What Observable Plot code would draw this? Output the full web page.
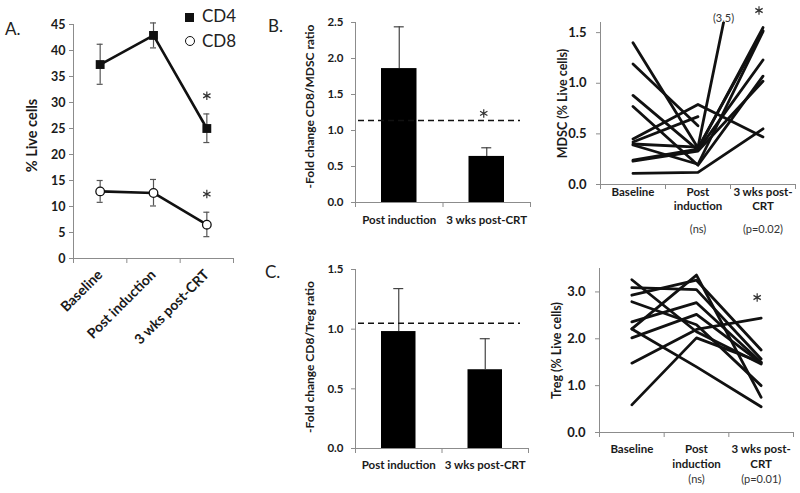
<!DOCTYPE html>
<html><head><meta charset="utf-8">
<script src="https://cdn.jsdelivr.net/npm/d3@7"></script>
<script src="https://cdn.jsdelivr.net/npm/@observablehq/plot@0.6"></script>
<style>
body{margin:0;background:#fff;}
#fig{position:relative;width:800px;height:493px;overflow:hidden;background:#fff;font-family:Lato,sans-serif;color:#222}
#fig div.p{position:absolute}
.letter{position:absolute;font-size:17px;line-height:17px;color:#222}
.leg{position:absolute;font-size:17px;line-height:17px;color:#222}
</style></head><body><div id="fig"></div>
<script>
// ---------- Panel A ----------
const timepoints = ["Baseline", "Post induction", "3 wks post-CRT"];
const cd4Mean = [37.3, 42.9, 25.0];
const cd4Low  = [33.5, 40.5, 22.3];
const cd4High = [41.2, 45.3, 27.8];
const cd8Mean = [12.9, 12.6, 6.5];
const cd8Low  = [10.8, 10.1, 4.2];
const cd8High = [15.0, 15.2, 8.9];
const panelASig = [false, false, true];
const panelATicks = [0, 5, 10, 15, 20, 25, 30, 35, 40, 45];

// ---------- Panels B / C ----------
const ratioGroups = ["Post induction", "3 wks post-CRT"];
const mdscRatio = [1.86, 0.64];
const mdscRatioErr = [2.44, 0.76];
const mdscRef = 1.14;
const mdscRatioSig = [false, true];
const mdscRatioTicks = [0, 0.5, 1.0, 1.5, 2.0, 2.5];
const tregRatio = [0.98, 0.66];
const tregRatioErr = [1.34, 0.92];
const tregRef = 1.05;
const tregRatioTicks = [0, 0.5, 1.0, 1.5];

// ---------- Paired patient panels ----------
const pairedLabels = ["Baseline", "Post\ninduction", "3 wks post-\nCRT"];
const mdscStats = ["", "(ns)", "(p=0.02)"];
const tregStats = ["", "(ns)", "(p=0.01)"];
const mdscBaseline = [1.40, 1.19, 0.88, 0.77, 0.45, 0.42, 0.40, 0.24, 0.23, 0.11, 0.39];
const mdscPost     = [0.36, 0.58, 0.34, 0.19, 0.79, 0.67, 0.37, 0.35, 0.33, 0.12, 0.20];
const mdscPostCRT  = [1.52, null, 1.23, 1.07, 0.47, null, 3.5, 1.55, 1.02, 0.55, 1.51];
const mdscTicks = [0, 0.5, 1.0, 1.5];
const tregBaseline = [3.26, 3.09, 2.93, 2.79, 2.36, 2.21, 2.02, 1.48, 0.59, 2.21];
const tregPost     = [2.15, 3.05, 3.25, 2.30, 2.77, 3.36, 2.52, 2.20, 2.02, 1.40];
const tregPostCRT  = [1.46, 1.57, 1.76, 1.00, 1.50, 0.75, 1.48, 2.44, 1.50, 0.55];
const tregTicks = [0, 1, 2, 3];

// ---------- helpers ----------
const fig = document.getElementById("fig");
const AX = "#8c8c8c";
const INK = "#111";
const TXT = "#1a1a1a";
const STAR = {symbol: "asterisk", r: 4, stroke: "#333", strokeWidth: 1.2};
const baseStyle = {background: "transparent", fontFamily: "Lato, sans-serif", fontSize: "12px", fontWeight: "bold", color: TXT, overflow: "visible"};
const xc = d => d.i + 0.5;
const f1 = d3.format(".1f");

function place(el, left, top) {
  const d = document.createElement("div");
  d.className = "p"; d.style.left = left + "px"; d.style.top = top + "px";
  d.appendChild(el); fig.appendChild(d);
}
function html(cls, text, left, top, extra) {
  const d = document.createElement("div");
  d.className = cls; d.textContent = text;
  d.style.left = left + "px"; d.style.top = top + "px";
  if (extra) Object.assign(d.style, extra);
  fig.appendChild(d);
}

// ---------- Panel A ----------
const rowsA = timepoints.flatMap((t, i) => [
  {i, series: "CD4", m: cd4Mean[i], lo: cd4Low[i], hi: cd4High[i]},
  {i, series: "CD8", m: cd8Mean[i], lo: cd8Low[i], hi: cd8High[i]}
]);
const plotA = Plot.plot({
  width: 250, height: 360, marginLeft: 73, marginRight: 17, marginTop: 24, marginBottom: 102,
  style: baseStyle,
  x: {domain: [0, timepoints.length]},
  y: {domain: [0, 45]},
  marks: [
    Plot.ruleX([0], {stroke: AX}),
    Plot.ruleY([0], {stroke: AX}),
    Plot.axisY({ticks: panelATicks, tickSize: 4, tickPadding: 4, stroke: AX, fill: TXT, fontSize: 12.5, label: null}),
    Plot.axisX({ticks: d3.range(0, timepoints.length + 1), tickSize: 5, stroke: AX, tickFormat: () => "", label: null}),
    Plot.axisX({ticks: timepoints.map((_, i) => i + 0.5), tickFormat: d => timepoints[Math.floor(d)], tickSize: 0, tickPadding: 14, tickRotate: -45, fill: TXT, fontSize: 14, label: null}),
    Plot.text(["% Live cells"], {frameAnchor: "left", textAnchor: "middle", rotate: -90, dx: -41, dy: -6, fontSize: 14.5, fill: TXT}),
    Plot.ruleX(rowsA, {x: xc, y1: "lo", y2: "hi", stroke: "#555", strokeWidth: 1.2}),
    Plot.ruleY(rowsA, {x1: xc, x2: xc, y: "lo", stroke: "#555", strokeWidth: 1.2, insetLeft: -3, insetRight: -3}),
    Plot.ruleY(rowsA, {x1: xc, x2: xc, y: "hi", stroke: "#555", strokeWidth: 1.2, insetLeft: -3, insetRight: -3}),
    Plot.line(rowsA, {x: xc, y: "m", z: "series", stroke: INK, strokeWidth: 2.6}),
    Plot.dot(rowsA.filter(d => d.series === "CD4"), {x: xc, y: "m", symbol: "square", r: 5, fill: INK}),
    Plot.dot(rowsA.filter(d => d.series === "CD8"), {x: xc, y: "m", r: 4.3, fill: "white", stroke: INK, strokeWidth: 1.3}),
    Plot.dot(rowsA.filter(d => panelASig[d.i]), {x: xc, y: d => d.hi + 3.5, ...STAR})
  ]
});
place(plotA, 0, 0);

// ---------- Panels B / C ----------
function ratioPanel({vals, errs, ref, ticks, title, sig, mt, mb, h, mr, refInset, labelPad, titleDy}) {
  const rows = ratioGroups.map((g, i) => ({i, g, v: vals[i], e: errs[i], s: sig ? sig[i] : false}));
  return Plot.plot({
    width: 300, height: h, marginLeft: 115, marginRight: mr, marginTop: mt, marginBottom: mb,
    style: baseStyle,
    x: {domain: [0, ratioGroups.length]},
    y: {domain: [0, d3.max(ticks)]},
    marks: [
      Plot.rect(rows, {x1: d => d.i, x2: d => d.i + 1, y1: 0, y2: "v", insetLeft: 26, insetRight: 26, fill: "#000"}),
      Plot.ruleX(rows, {x: xc, y1: "v", y2: "e", stroke: "#444", strokeWidth: 1.2}),
      Plot.ruleY(rows, {x1: xc, x2: xc, y: "e", stroke: "#444", strokeWidth: 1.2, insetLeft: -5, insetRight: -5}),
      Plot.ruleX([0], {stroke: AX}),
      Plot.ruleY([0], {stroke: AX}),
      Plot.ruleY([ref], {stroke: "#111", strokeWidth: 1.5, strokeDasharray: "6,4", insetLeft: 3, insetRight: refInset}),
      Plot.axisY({ticks, tickFormat: f1, tickSize: 4, tickPadding: 8, stroke: AX, fill: TXT, fontSize: 11.5, label: null}),
      Plot.axisX({ticks: d3.range(0, ratioGroups.length + 1), tickSize: 5, stroke: AX, tickFormat: () => "", label: null}),
      Plot.axisX({ticks: ratioGroups.map((_, i) => i + 0.5), tickFormat: d => ratioGroups[Math.floor(d)], tickSize: 0, tickPadding: labelPad, fill: TXT, fontSize: 11.5, label: null}),
      Plot.text([title], {frameAnchor: "left", textAnchor: "middle", rotate: -90, dx: -45, dy: titleDy, fontSize: 12, fill: TXT}),
      Plot.dot(rows.filter(d => d.s), {x: xc, y: () => ref, dx: -3, dy: -7, ...STAR})
    ]
  });
}
place(ratioPanel({vals: mdscRatio, errs: mdscRatioErr, ref: mdscRef, ticks: mdscRatioTicks,
  title: "-Fold change CD8/MDSC ratio", sig: mdscRatioSig, mt: 22, mb: 38, h: 240, mr: 10, refInset: 10, labelPad: 13, titleDy: -6}), 240, 0);
place(ratioPanel({vals: tregRatio, errs: tregRatioErr, ref: tregRef, ticks: tregRatioTicks,
  title: "-Fold change CD8/Treg ratio", sig: null, mt: 19, mb: 45, h: 243, mr: 12, refInset: 8, labelPad: 12, titleDy: -2}), 240, 250);

// ---------- Paired panels ----------
function pairedPanel({base, post, crt, ymax, ticks, title, stats, mt, mb, h, ml, mr, labelPad, lineH, statsDy, titleDx, sigDy}) {
  const rows = base.flatMap((b, p) => [b, post[p], crt[p]].map((v, i) => ({p, i, v})));
  const over = base.map((b, p) => ({p, a: post[p], c: crt[p]})).filter(d => d.c != null && d.c > ymax)
    .map(d => ({x: 1.5 + (ymax - d.a) / (d.c - d.a), y: ymax, t: `(${d.c})`}));
  const statRows = stats.map((s, i) => ({i, s}));
  return Plot.plot({
    width: 260, height: h, marginLeft: ml, marginRight: mr, marginTop: mt, marginBottom: mb,
    style: baseStyle,
    x: {domain: [0, pairedLabels.length]},
    y: {domain: [0, ymax]},
    marks: [
      Plot.ruleX([0], {stroke: AX}),
      Plot.ruleY([0], {stroke: AX}),
      Plot.axisY({ticks, tickFormat: f1, tickSize: 4, tickPadding: 10, stroke: AX, fill: TXT, fontSize: 13, label: null}),
      Plot.axisX({ticks: d3.range(0, pairedLabels.length + 1), tickSize: 5, stroke: AX, tickFormat: () => "", label: null}),
      Plot.axisX({ticks: pairedLabels.map((_, i) => i + 0.5), tickFormat: d => pairedLabels[Math.floor(d)], tickSize: 0, tickPadding: labelPad, lineHeight: lineH, fill: TXT, fontSize: 11.5, label: null}),
      Plot.text(statRows, {x: xc, frameAnchor: "bottom", dy: statsDy, text: "s", fontSize: 11, fontWeight: "normal", fill: "#333"}),
      Plot.text([title], {frameAnchor: "left", textAnchor: "middle", rotate: -90, dx: titleDx, fontSize: 12.5, fill: TXT}),
      Plot.line(rows, {x: xc, y: "v", z: "p", stroke: INK, strokeWidth: 2.8, clip: true}),
      Plot.text(over, {x: "x", y: "y", text: "t", lineAnchor: "bottom", dy: -1, fontSize: 11, fontWeight: "normal", fill: "#333"}),
      Plot.dot([pairedLabels.length - 0.5], {x: d => d, frameAnchor: "top", dx: -4, dy: sigDy, ...STAR})
    ]
  });
}
place(pairedPanel({base: mdscBaseline, post: mdscPost, crt: mdscPostCRT, ymax: 1.6, ticks: mdscTicks,
  title: "MDSC (% Live cells)", stats: mdscStats, mt: 22, mb: 56, h: 240, ml: 60, mr: 5,
  labelPad: 1, lineH: 1.25, statsDy: 48, titleDx: -38, sigDy: -12}), 540, 0);
place(pairedPanel({base: tregBaseline, post: tregPost, crt: tregPostCRT, ymax: 3.5, ticks: tregTicks,
  title: "Treg (% Live cells)", stats: tregStats, mt: 18, mb: 61, h: 243, ml: 59, mr: 7,
  labelPad: 9, lineH: 1.35, statsDy: 50, titleDx: -43, sigDy: 29}), 540, 250);

// ---------- panel letters & legend ----------
html("letter", "A.", 5, 20);
html("letter", "B.", 268, 17);
html("letter", "C.", 265, 263);
const sq = document.createElement("div");
Object.assign(sq.style, {position: "absolute", left: "185px", top: "13px", width: "9px", height: "9px", background: INK});
fig.appendChild(sq);
const ci = document.createElement("div");
Object.assign(ci.style, {position: "absolute", left: "184.5px", top: "36px", width: "8px", height: "8px", border: "1.2px solid " + INK, borderRadius: "50%", background: "#fff"});
fig.appendChild(ci);
html("leg", "CD4", 202, 7, {fontSize: "17px"});
html("leg", "CD8", 202, 32, {fontSize: "17px"});
</script>
</body></html>
